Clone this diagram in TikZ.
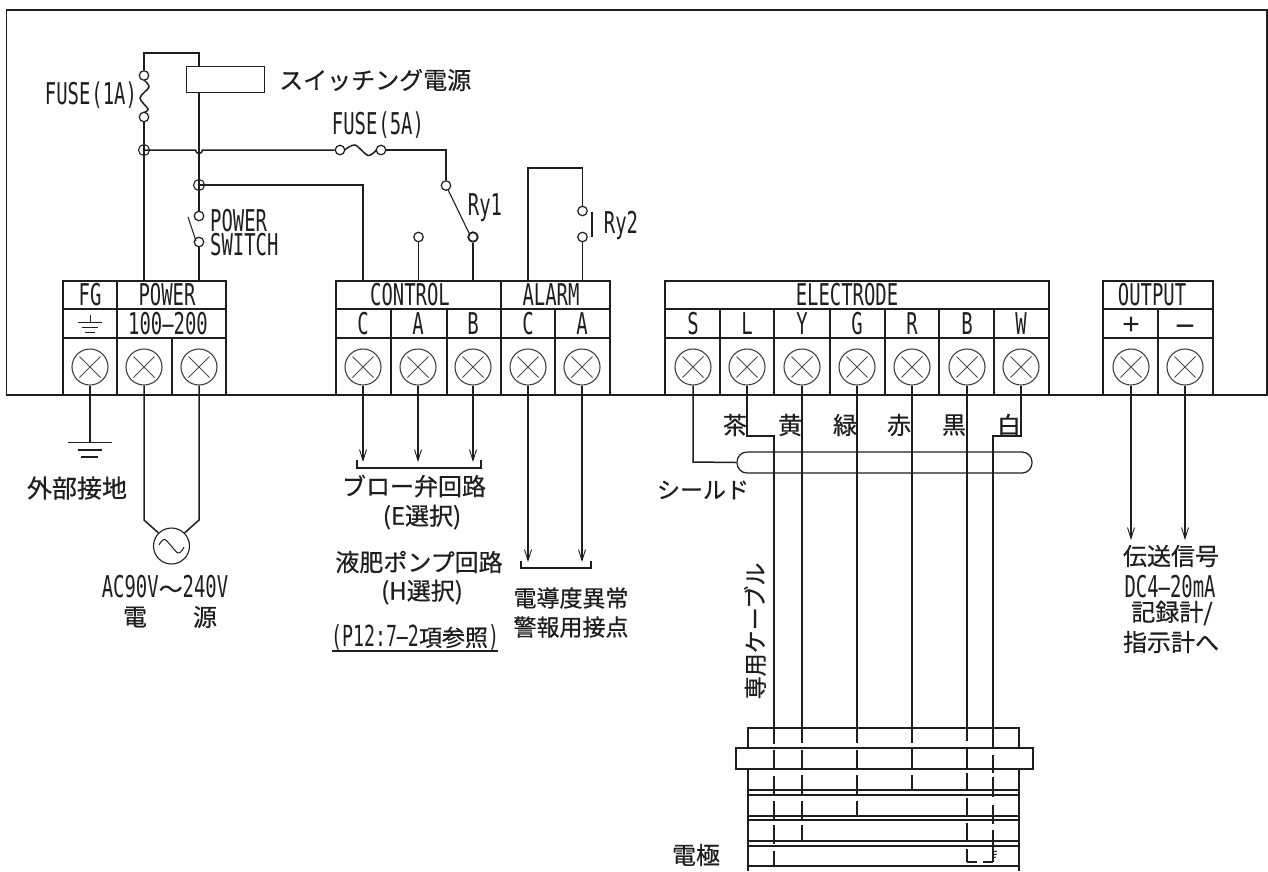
\documentclass[tikz,border=0pt]{standalone}
\usepackage{fontspec}
\usetikzlibrary{arrows.meta,calc}
\setmainfont{Noto Sans CJK JP}
\newfontfamily\nar[FakeStretch=0.63]{DejaVu Sans Mono}
\newfontfamily\jp[FakeBold=0.5]{Noto Sans CJK JP}
\definecolor{ink}{HTML}{1E1E1E}
\tikzset{
  wire/.style={draw=ink,line width=1.5pt},
  cell/.style={draw=ink,line width=1.4pt},
  lab/.style={inner sep=0pt,text=ink,font=\nar\fontsize{30}{30}\selectfont},
  jlab/.style={inner sep=0pt,text=ink,font=\jp\fontsize{24}{28}\selectfont,align=center},
  screw/.style={circle,draw=ink!85,line width=1.1pt,minimum size=36pt,inner sep=0pt,
    path picture={\draw[ink!80,line width=.9pt,shift={(path picture bounding box.center)}]
      (-10.5pt,-10.5pt)--(10.5pt,10.5pt) (-10.5pt,10.5pt)--(10.5pt,-10.5pt);}},
  post/.style={circle,draw=ink,fill=white,line width=1.2pt,minimum size=9.5pt,inner sep=0pt},
  junc/.style={circle,draw=ink,line width=1.1pt,minimum size=11pt,inner sep=0pt},
  arr/.style={wire,-{Straight Barb[length=11pt,width=7pt,line width=.9pt]}},
}
\begin{document}
\begin{tikzpicture}[x=1pt,y=-1pt]
\useasboundingbox (0,0) rectangle (1268,871);
% enclosure
\coordinate (fTL) at (6.5,10); \coordinate (fTR) at (1267,10);
\coordinate (fBL) at (6.5,395); \coordinate (fBR) at (1267,395);
\draw[wire] (fBR)--(fTR)--(fTL)--(fBL)--cycle;
% terminal blocks
\foreach \a/\b in {63/226,336/610,665/1049,1103/1213}{
  \draw[cell] (\a,395)--(\a,281)--(\b,281)--(\b,395);
  \draw[cell] (\a,309)--(\b,309) (\a,338)--(\b,338);
}
\foreach \x/\t in {117/281,172/338,391/309,447/309,501/281,555/309,720/309,774/309,830/309,885/309,939/309,994/309,1158/309}{
  \draw[cell] (\x,\t)--(\x,395);
}
% terminals
\foreach \n/\x in {tfg/90,tp1/144,tp2/199,tca/363,tcb/418,tcc/473,tac/528,taa/582,
  te1/693,te2/747,te3/802,te4/857,te5/912,te6/967,te7/1021,tout1/1131,tout2/1185}{
  \node[screw] (\n) at (\x,367) {};
}
% block labels
\node[lab] (hfg) at (90,295) {FG};
\node[lab] (hpw) at (167,295) {POWER};
\node[lab] (hctl) at (410,295) {CONTROL};
\node[lab] (halm) at (551,295) {ALARM};
\node[lab] (hel) at (847,295) {ELECTRODE};
\node[lab] (hout) at (1152,295) {OUTPUT};
\node[lab] (h100) at (168,324) {100–200};
\foreach \n/\x/\t in {la/363/C,lb/418/A,lc/473/B,ld/528/C,le/582/A,lf/693/S,lg/747/L,lh/802/Y,li/857/G,lj/912/R,lk/967/B,ll/1021/W}{
  \node[lab] (\n) at (\x,324) {\t};
}
\node[inner sep=0pt,text=ink,font=\fontspec{Liberation Sans}\fontsize{30}{30}\selectfont] (lplus) at (1131,326) {+};
\node[inner sep=0pt,text=ink,font=\fontspec{Liberation Sans}\fontsize{34}{34}\selectfont] (lminus) at (1185,331) {−};
% ground in block
\draw[cell,line width=1pt] (90,315)--(90,322) (78,322)--(102,322) (82,327.5)--(98,327.5) (85,332)--(95,332);
% switching supply and top wiring
\node[draw=ink,line width=1.3pt,minimum width=78pt,minimum height=26pt,inner sep=0pt,anchor=north west] (psu) at (186,66) {};
\node[jlab,anchor=west] (tpsu) at (279,80) {スイッチング電源};
\coordinate (c1) at (144,53); \coordinate (c2) at (199,53);
\node[post] (f1a) at (144,75.5) {}; \node[post] (f1b) at (144,117) {};
\node[junc] (j1) at (144,150) {};
\node[junc] (j2) at (199,185) {};
\node[post] (s1) at (199,216) {}; \node[post] (s2) at (199,242) {};
\node[post] (f5a) at (340,150) {}; \node[post] (f5b) at (381,150) {};
\node[post] (r1a) at (446,185.5) {};
\node[post,line width=1.8pt] (r1b) at (473,237) {};
\node[post] (r1c) at (418.5,237) {};
\node[post] (r2a) at (582.5,211) {}; \node[post] (r2b) at (582.5,237) {};
\coordinate (c3) at (528,168); \coordinate (c4) at (582.5,168);
\coordinate (c5) at (446,150); \coordinate (c6) at (363,185);
\draw[wire] (psu.north -| c2)--(c2)--(c1)--(f1a.north);
\draw[wire] plot[smooth] coordinates {(144,80)(149,87)(140,98)(148,109)(144,112.5)};
\draw[wire] (f1b)--(j1.center)--(144,281);
\draw[wire] (j1.center)--(195.5,150) arc[start angle=180,end angle=0,radius=3.5]--(f5a.west);
\draw[wire] plot[smooth] coordinates {(344.5,150)(355,145)(368,155.5)(376.5,150)};
\draw[wire] (f5b.east)--(c5)--(r1a.north);
\draw[wire,line width=1.1pt] (r1a.south east)++(-2,0)--(r1b.north west);
\draw[wire] (r1b)--(473,281);
\draw[wire] (r1c)--(418.5,281);
\draw[wire,line width=1.1pt] (199,92)--(199,130);
\draw[wire] (199,130)--(j2.center)--(s1.north);
\draw[wire] (j2.center)--(c6)--(363,281);
\draw[wire] (s2)--(199,281);
\draw[wire,line width=1.1pt] (188,217)--(196,241);
\draw[wire] (528,281)--(c3)--(c4)--(r2a.north);
\draw[wire] (r2b)--(582.5,281);
\draw[wire,line width=1.1pt] (592,212)--(592,237);
% upper labels
\node[lab] (tf1) at (91,95) {\spaceskip=1pt FUSE (1A)};
\node[lab] (tf5) at (378,125) {\spaceskip=1pt FUSE (5A)};
\node[lab,anchor=west] (tpw) at (210,221) {POWER};
\node[lab,anchor=west] (tsw) at (210,245) {SWITCH};
\node[lab] (try1) at (485,208) {Ry1};
\node[lab] (try2) at (621,225) {Ry2};
% ground and mains
\coordinate (g0) at (90,442.5);
\draw[wire] (tfg.south)--(g0);
\draw[wire] (68,442.5)--(112,442.5) (78,450)--(102,450) (81,457)--(98,457);
\node[jlab,font=\jp\fontsize{25}{25}\selectfont] (tgnd) at (77,488) {外部接地};
\node[circle,draw=ink,line width=1.1pt,minimum size=36pt,inner sep=0pt] (ac) at (171.5,546) {};
\coordinate (a1) at (144,520); \coordinate (a2) at (199,520);
\draw[wire] (tp1.south)--(a1)--(ac.135);
\draw[wire] (tp2.south)--(a2)--(ac.45);
\draw[wire,line width=1pt] plot[smooth] coordinates {(159,545)(165,539.5)(178,553)(184,547)};
\node[inner sep=0pt,text=ink] (tacv) at (165,587) {\nar\fontsize{30}{30}\selectfont AC90V\jp\fontsize{24}{24}\selectfont ～\nar\fontsize{30}{30}\selectfont 240V};
\node[jlab] (tac1) at (135,617) {電};
\node[jlab] (tac2) at (205,617) {源};
% control outputs
\coordinate (ca) at (363,462); \coordinate (cb) at (418,462); \coordinate (cc) at (473,462);
\draw[arr] (tca.south)--(ca);
\draw[arr] (tcb.south)--(cb);
\draw[arr] (tcc.south)--(cc);
\draw[cell] (357,460)--(357,468)--(481,468)--(481,460);
\node[jlab] (t1) at (414,486) {ブロー弁回路};
\node[jlab] (t2) at (422,517) {(E選択)};
\node[jlab] (t3) at (419,562) {液肥ポンプ回路};
\node[jlab] (t4) at (422,592) {(H選択)};
\node[inner sep=0pt,text=ink] (t5) at (415,637) {\nar\fontsize{29}{29}\selectfont (P12:7–2\jp\fontsize{23}{23}\selectfont 項参照\nar\fontsize{29}{29}\selectfont )};
\draw[cell] (332,651)--(498,651);
% alarm outputs
\coordinate (aa) at (528,562); \coordinate (ab) at (582,562);
\draw[arr] (tac.south)--(aa);
\draw[arr] (taa.south)--(ab);
\draw[cell] (521,561)--(521,568)--(591,568)--(591,561);
\node[jlab,font=\jp\fontsize{23}{23}\selectfont] (t6) at (571,598) {電導度異常};
\node[jlab,font=\jp\fontsize{23}{23}\selectfont] (t7) at (571,627) {警報用接点};
% electrode cable
\node[draw=ink,line width=1.2pt,rounded corners=10pt,minimum width=295pt,minimum height=21pt,inner sep=0pt] (pill) at (884.5,462.5) {};
\coordinate (w1) at (693,462); \coordinate (w2) at (747,436); \coordinate (w3) at (774,436);
\coordinate (w4) at (1021,436); \coordinate (w5) at (993,436);
\draw[wire] (te1.south)--(w1)--(pill.west);
\draw[wire] (te2.south)--(w2)--(w3)--(774,744);
\draw[wire] (te3.south)--(802,743);
\draw[wire] (te4.south)--(857,743);
\draw[wire] (te5.south)--(912,743);
\draw[wire] (te6.south)--(967,741);
\draw[wire] (te7.south)--(w4)--(w5)--(993,748);
\foreach \n/\x/\t in {c1a/735/茶,c2a/790/黄,c3a/845/緑,c4a/899/赤,c5a/954/黒,c6a/1009/白}{
  \node[jlab] (\n) at (\x,425) {\t};
}
\node[jlab,font=\jp\fontsize{23}{23}\selectfont] (tsh) at (703,490) {シールド};
\node[jlab,font=\jp\fontsize{23}{23}\selectfont,rotate=90] (tcable) at (755,631) {専用ケーブル};
% electrode body
\draw[cell] (748,748)--(748,728)--(1019,728)--(1019,748);
\draw[cell] (736,748) rectangle (1033,769);
\draw[cell] (748,769)--(748,871) (1019,769)--(1019,871);
\foreach \y in {790,795,816,820,841,846,866}{ \draw[cell] (748,\y)--(1019,\y); }
\foreach \x/\a/\b in {774/750/769,774/776/795,774/801/820,774/825/844,774/851/866,
  802/750/769,802/775/795,802/801/820,802/825/841,
  857/750/769,857/775/795,857/801/816,
  912/748/769,912/775/790,
  967/748/768,967/773/791,967/798/815,967/823/841,967/849/862,
  993/755/773,993/777/797,993/805/824,993/830/862}{
  \draw[wire] (\x,\a)--(\x,\b);
}
\draw[wire] (967,862)--(977,862) (983,862)--(993,862);
\draw[wire,line width=.9pt] (993,852)--(997,851) (993,855)--(997,854) (993,858)--(996,857);
\node[jlab] (tel) at (696,855) {電極};
% signal outputs
\coordinate (o1) at (1131,540); \coordinate (o2) at (1185,540);
\draw[arr] (tout1.south)--(o1);
\draw[arr] (tout2.south)--(o2);
\node[jlab] (o3) at (1171,556) {伝送信号};
\node[lab] (o4) at (1170,587) {DC4–20mA};
\node[jlab] (o5) at (1172,613) {記録計/};
\node[jlab] (o6) at (1171,642) {指示計へ};
\end{tikzpicture}
\end{document}
